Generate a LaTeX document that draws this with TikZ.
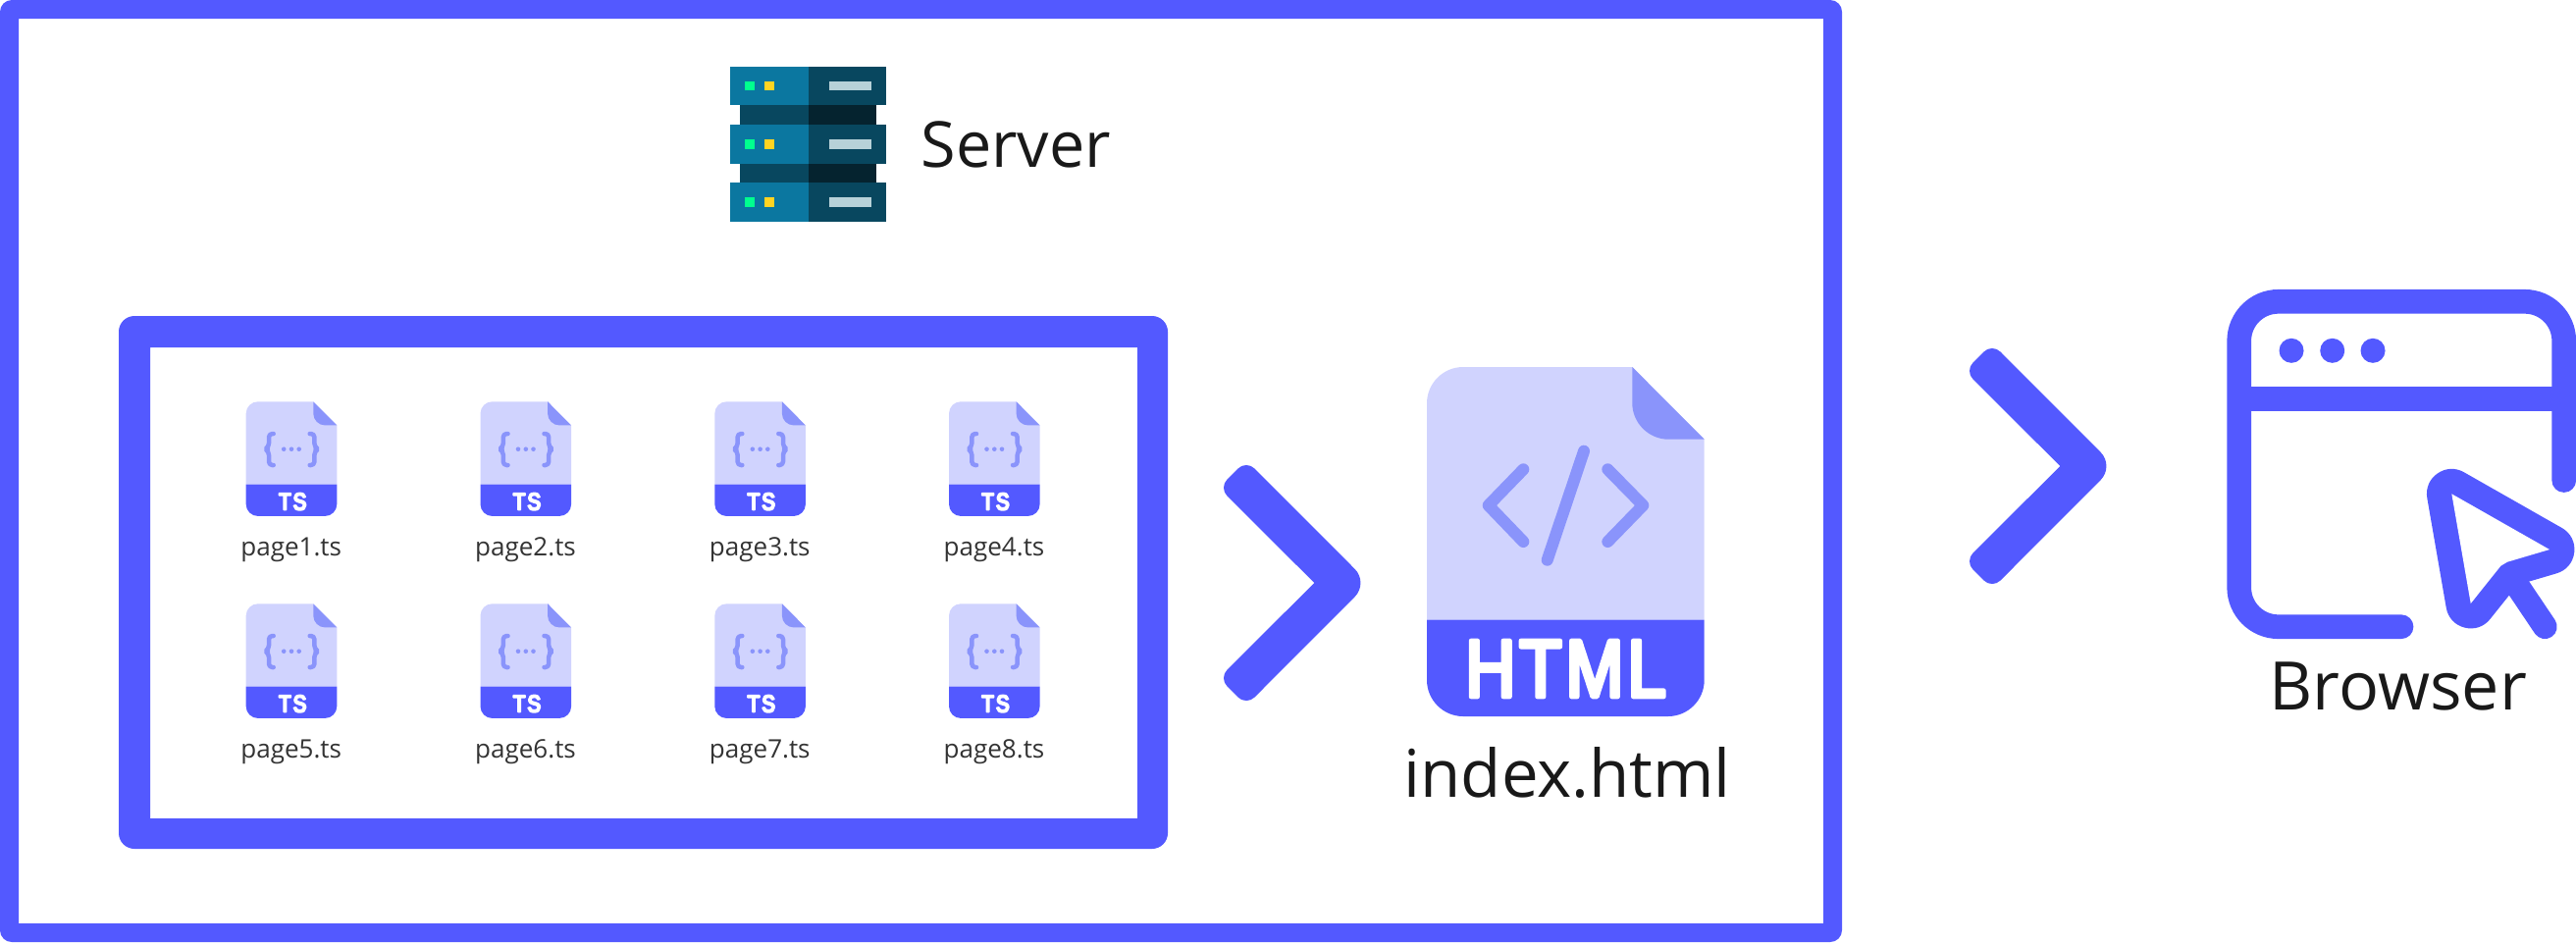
\documentclass[tikz,border=0pt]{standalone}
\usepackage{fontspec}
\setmainfont{Open Sans}
\newfontface\tsfont{Liberation Sans}[LetterSpace=8,FakeStretch=0.85,FakeBold=8]
\newfontface\htmlfont{Liberation Sans}[LetterSpace=5,FakeStretch=0.85,FakeBold=5.5]
\definecolor{blue1}{HTML}{5359FF}
\definecolor{blue2}{HTML}{8A94FB}
\definecolor{blue3}{HTML}{D0D3FE}
\definecolor{srvlight}{HTML}{0B77A0}
\definecolor{srvdark}{HTML}{08475F}
\definecolor{srvblack}{HTML}{05232F}
\definecolor{srvbar}{HTML}{B7D1D8}
\definecolor{srvgreen}{HTML}{00FF8F}
\definecolor{srvyellow}{HTML}{FFD422}
\tikzset{
  biglabel/.style={anchor=base west,inner sep=0,text=black!90},
  filelabel/.style={anchor=base,inner sep=0,text=black!80,font=\fontsize{7.4}{9}\selectfont},
  iconline/.style={blue2,line cap=round,line join=round},
  pics/filebody/.style={code={
    \fill[blue3] (37,0)--(209.3,0)--(282.7,73.7)--(282.7,257.7)--(0,257.7)--(0,37)
    .. controls (0,16.6) and (16.6,0) .. (37,0)--cycle ;
    \fill[blue1] (0,257.7)--(282.7,257.7)--(282.7,319)
    .. controls (282.7,339.4) and (266.1,356) .. (245.7,356)--(37,356)
    .. controls (16.6,356) and (0,339.4) .. (0,319)--cycle ;
    \fill[blue2] (209.3,0)--(282.7,73.7)--(246.3,73.7)
    .. controls (226,73.7) and (209.3,57) .. (209.3,37)--cycle ;
  }},
}
\begin{document}
\begin{tikzpicture}[x=0.01cm,y=-0.01cm]
  \useasboundingbox (0,0) rectangle (2625,960) ;
  % frames
  \fill[blue1,even odd rule,rounded corners=0.12cm] (0,0) rectangle (1877,960)
  [sharp corners] (19,19) rectangle (1858,941) ;
  \fill[blue1,even odd rule,rounded corners=0.16cm] (121,322) rectangle (1190,865)
  [sharp corners] (153,354) rectangle (1159,834) ;
  % server
  \foreach \top in {67.7,127,186} {
    \fill[srvlight] (744.3,\top) rectangle (823.7,\top+39.7) ;
    \fill[srvdark] (823.7,\top) rectangle (902.7,\top+39.7) ;
    \fill[srvgreen] (759,\top+15) rectangle (769.3,\top+24.6) ;
    \fill[srvyellow] (779,\top+15) rectangle (789,\top+24.6) ;
    \fill[srvbar] (845,\top+15) rectangle (888,\top+24.6) ;
  }
  \foreach \top in {107.4,166.7} {
    \fill[srvdark] (754.3,\top) rectangle (823.7,\top+19.6) ;
    \fill[srvblack] (823.7,\top) rectangle (892.7,\top+19.6) ;
  }
  \node[biglabel,font=\fontsize{18.4}{22}\selectfont] (server) at (938,170) {Server} ;
  % ts files
  \foreach \n/\cx/\cy in {1/250.7/409.3,2/489.5/409.3,3/728.3/409.3,4/967/409.3,
    5/250.7/615.3,6/489.5/615.3,7/728.3/615.3,8/967/615.3} {
    \pic[scale=0.3276] at (\cx,\cy) {filebody} ;
    \begin{scope}[shift={(\cx,\cy)}]
      \draw[iconline,line width=0.045cm,rounded corners=1pt]
      (28,32.7)--(23.3,32.7)--(23.3,46)--(19.5,48.4)--(23.3,50.8)--(23.3,64.7)--(28,64.7) ;
      \draw[iconline,line width=0.045cm,rounded corners=1pt]
      (65,32.7)--(69.7,32.7)--(69.7,46)--(73.5,48.4)--(69.7,50.8)--(69.7,64.7)--(65,64.7) ;
      \foreach \dx in {38.5,46.3,54} \fill[blue2] (\dx,48.4) circle (2.3) ;
      \node[anchor=base,inner sep=0,text=white] (ts\n) at (47.5,110.2)
      {\special{pdf:code 1 j 1 J}\fontsize{6.9}{8}\selectfont\tsfont TS} ;
      \node[filelabel] (page\n) at (46,156.7) {page\n.ts} ;
    \end{scope}
  }
  % big chevrons
  \foreach \dx/\dy in {0/0,760/-119} {
    \fill[blue1,shift={(\dx,\dy)},rounded corners=0.12cm] (1270,469)
    [rounded corners=0.2cm]--(1394.7,594) [rounded corners=0.12cm]--(1270,719)--(1242,691)
    [sharp corners]--(1339.3,594) [rounded corners=0.12cm]--(1242,497)--cycle ;
  }
  % html file
  \pic at (1454,374) {filebody} ;
  \draw[iconline,line width=0.12cm] (1552.3,478.3)--(1516.7,515)--(1552.3,552) ;
  \draw[iconline,line width=0.12cm] (1614,459.7)--(1576.7,570.7) ;
  \draw[iconline,line width=0.12cm] (1638.3,478.3)--(1674.3,515)--(1638.3,552) ;
  \node[anchor=base,inner sep=0,text=white] (htmltag) at (1595.5,710)
  {\special{pdf:code 1 j 1 J}\fontsize{23.6}{24}\selectfont\htmlfont HTML} ;
  \node[biglabel,font=\fontsize{19.1}{22}\selectfont] (index) at (1430,812.7) {index.html} ;
  % browser
  \draw[blue1,line width=0.247cm,line cap=round,rounded corners=0.40cm]
  (2612.7,489.5)--(2612.7,307.3)--(2281.7,307.3)--(2281.7,638.7)--(2447,638.7) ;
  \draw[blue1,line width=0.247cm] (2281.7,406.8)--(2612.7,406.8) ;
  \foreach \dotx in {2335,2376.7,2418} \fill[blue1] (\dotx,357.3) circle (12.5) ;
  \draw[blue1,line width=0.247cm,line cap=round] (2561.7,591.7)--(2593.3,638.7) ;
  \draw[blue1,line width=0.507cm,line join=round]
  (2498.3,503.3)--(2598,560)--(2555,572.7)--(2548.3,576.7)--(2517.7,615)--cycle ;
  \fill[white] (2498.3,503.3)--(2598,560)--(2555,572.7)--(2548.3,576.7)--(2517.7,615)--cycle ;
  \node[biglabel,font=\fontsize{19.4}{22}\selectfont] (browser) at (2312,723) {Browser} ;
\end{tikzpicture}
\end{document}
